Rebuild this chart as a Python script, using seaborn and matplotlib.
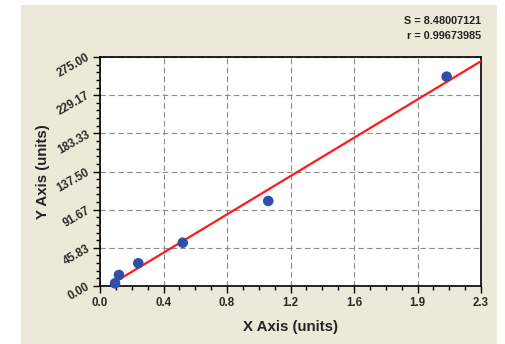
import numpy as np
import pandas as pd
import matplotlib
matplotlib.use("Agg")
import matplotlib.pyplot as plt
import seaborn as sns
from matplotlib.patches import Rectangle
from matplotlib.ticker import FixedLocator, AutoMinorLocator

# Data
x_vals = [0.092, 0.116, 0.234, 0.506, 1.029, 2.12]
y_vals = [3.2, 13.2, 27.3, 52.0, 102.1, 251.4]
fit_x_range = [0.07, 2.33]
x_max = 2.33
y_max = 275.0
x_tick_labels = ["0.0", "0.4", "0.8", "1.2", "1.6", "1.9", "2.3"]
y_tick_labels = ["0.00", "45.83", "91.67", "137.50", "183.33", "229.17", "275.00"]
stats_text = ["S = 8.48007121", "r = 0.99673985"]

df = pd.DataFrame({"x": x_vals, "y": y_vals})
slope, intercept = np.polyfit(x_vals, y_vals, 1)
fit_df = pd.DataFrame({"x": fit_x_range,
                       "y": [slope * v + intercept for v in fit_x_range]})

sns.set_theme(style="white")
plt.rcParams["font.family"] = ["Liberation Sans", "DejaVu Sans"]

fig = plt.figure(figsize=(5.05, 3.44), dpi=100)
fig.patch.set_facecolor("white")
fig.patches.append(Rectangle((21 / 505, 0), (497 - 21) / 505, (344 - 5) / 344,
                             transform=fig.transFigure, facecolor="#ECE9D8",
                             edgecolor="none", zorder=-5))

ax = fig.add_axes([100 / 505, 1 - 286 / 344, (481 - 100) / 505, (286 - 57) / 344])
ax.set_zorder(2)
ax.set_facecolor("white")

sns.lineplot(data=fit_df, x="x", y="y", ax=ax, color="#FF1A1A", linewidth=1.6, zorder=3)
sns.scatterplot(data=df, x="x", y="y", ax=ax, color="#3050A8", s=58,
                edgecolor="none", zorder=4, clip_on=False)

ax.set_xlim(0, x_max)
ax.set_ylim(0, y_max)

xt = np.linspace(0, x_max, len(x_tick_labels))
yt = np.linspace(0, y_max, len(y_tick_labels))
ax.xaxis.set_major_locator(FixedLocator(xt))
ax.yaxis.set_major_locator(FixedLocator(yt))
ax.set_xticklabels(x_tick_labels, fontsize=8.3, fontweight="bold", color="#2a2a2a")
ax.set_yticklabels(y_tick_labels, fontsize=8.3, fontweight="bold", color="#2a2a2a",
                   rotation=30, ha="right", va="center", rotation_mode="anchor")
ax.xaxis.set_minor_locator(AutoMinorLocator(4))
ax.yaxis.set_minor_locator(AutoMinorLocator(5))
ax.tick_params(axis="both", which="major", direction="out", length=5, width=1,
               color="black", bottom=True, left=True, pad=3)
ax.tick_params(axis="both", which="minor", direction="out", length=3, width=1,
               color="black", bottom=True, left=True)
ax.tick_params(axis="x", which="major", pad=3)

ax.grid(True, which="major", color="#8C8C8C", linestyle=(0, (5, 3)), linewidth=0.8)
for s in ax.spines.values():
    s.set_color("black")
    s.set_linewidth(1.2)
    s.set_visible(True)

ax.set_xlabel("X Axis (units)", fontsize=10.8, fontweight="bold", color="#222222", labelpad=8)
ax.set_ylabel("Y Axis (units)", fontsize=10.8, fontweight="bold", color="#222222", labelpad=4)

fig.text(481 / 505, 1 - 21 / 344, stats_text[0], ha="right", va="center",
         fontsize=7.8, fontweight="bold", color="#222222")
fig.text(481 / 505, 1 - 36 / 344, stats_text[1], ha="right", va="center",
         fontsize=7.8, fontweight="bold", color="#222222")

fig.savefig("out.png", dpi=100, facecolor=fig.get_facecolor())
